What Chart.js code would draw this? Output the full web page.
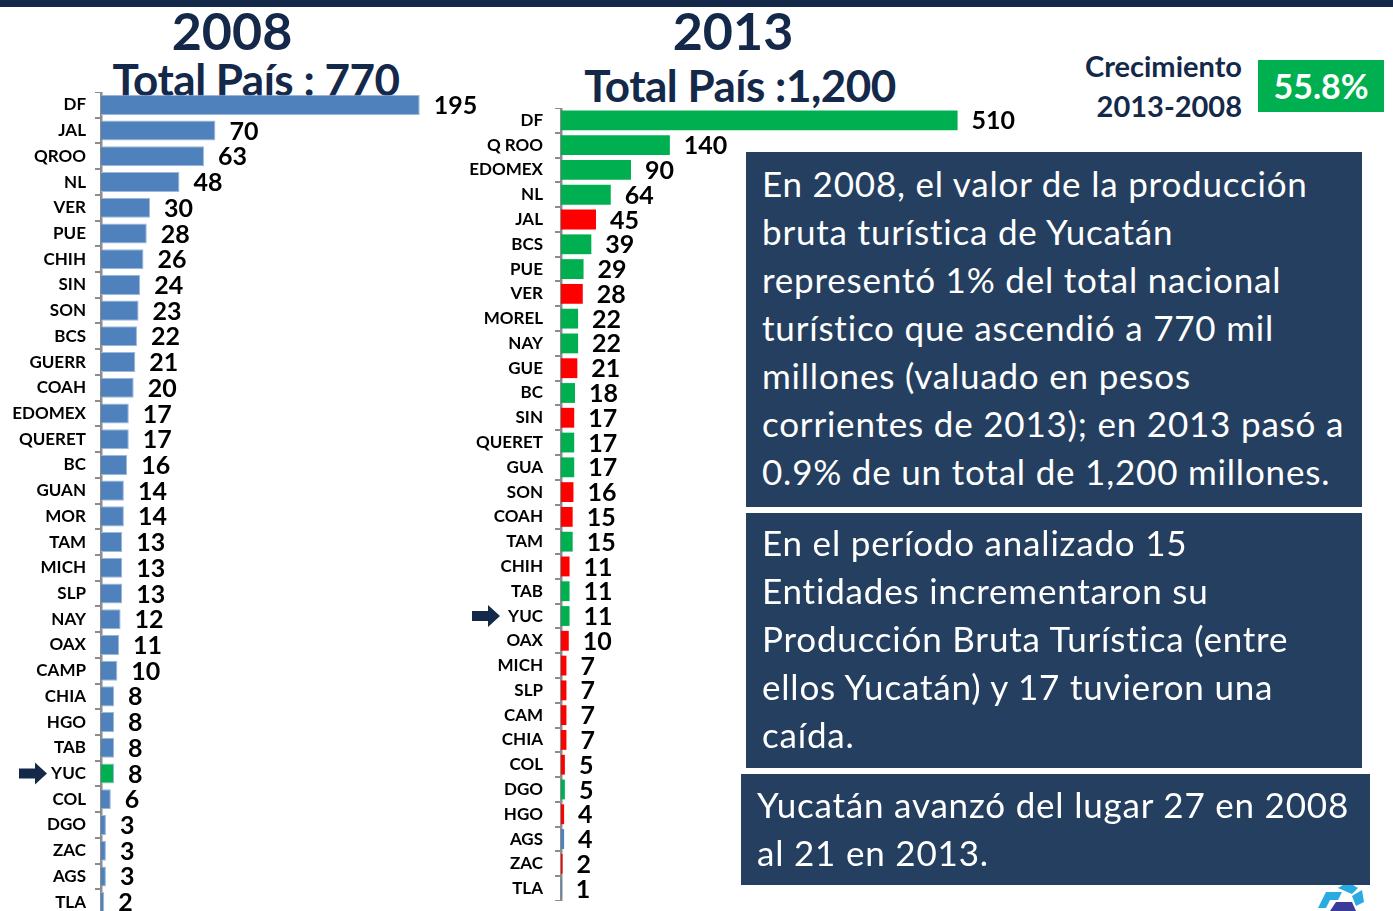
<!DOCTYPE html>
<html>
<head>
<meta charset="utf-8">
<script src="https://cdn.jsdelivr.net/npm/chart.js@4.4.0/dist/chart.umd.min.js"></script>
<style>
  html, body { margin: 0; padding: 0; width: 1393px; height: 911px; overflow: hidden; background: #fff; font-family: Lato, 'Open Sans', sans-serif; }
  .topbar { position: absolute; left: 0; top: 0; width: 1393px; height: 7px; background: #14284a; }
  .t { position: absolute; color: #14284a; font-weight: bold; white-space: nowrap; text-align: center; line-height: 1; }
  .box { position: absolute; background: #253f60; color: #fff; font-size: 35px; letter-spacing: 0.8px; line-height: 48px; white-space: nowrap; box-sizing: border-box; z-index: 5; }
  .wrap { position: absolute; }
</style>
</head>
<body>
<div class="topbar"></div>

<div class="t" style="left:132px; top:4px; width:200px; font-size:52px;">2008</div>
<div class="t" style="left:56px; top:57px; width:400px; font-size:44px; letter-spacing:-0.5px;">Total País : 770</div>
<div class="t" style="left:633px; top:4px; width:200px; font-size:52px;">2013</div>
<div class="t" style="left:540px; top:63px; width:400px; font-size:44px; letter-spacing:-0.5px;">Total País :1,200</div>

<div class="t" style="left:1042px; top:51px; width:200px; text-align:right; font-size:29px;">Crecimiento</div>
<div class="t" style="left:1042px; top:91px; width:200px; text-align:right; font-size:29px;">2013-2008</div>
<div style="position:absolute; left:1258px; top:60px; width:126px; height:52px; background:#00b050; color:#fff; font-weight:bold; font-size:34px; line-height:52px; text-align:center;">55.8%</div>

<div class="wrap" style="left:0px; top:92px; width:490px; height:823px;"><canvas id="chart2008"></canvas></div>
<div class="wrap" style="left:450px; top:108px; width:590px; height:793px;"><canvas id="chart2013"></canvas></div>

<div class="box" style="left:746px; top:152px; width:616px; height:355px; padding:7px 0 0 16px;">
En 2008, el valor de la producción<br>bruta turística de Yucatán<br>representó 1% del total nacional<br>turístico que ascendió a 770 mil<br>millones (valuado en pesos<br>corrientes de 2013); en 2013 pasó a<br>0.9% de un total de 1,200 millones.
</div>
<div class="box" style="left:746px; top:513px; width:616px; height:255px; padding:5px 0 0 16px;">
En el período analizado 15<br>Entidades incrementaron su<br>Producción Bruta Turística (entre<br>ellos Yucatán) y 17 tuvieron una<br>caída.
</div>
<div class="box" style="left:741px; top:774px; width:629px; height:111px; padding:6px 0 0 16px;">
Yucatán avanzó del lugar 27 en 2008<br>al 21 en 2013.
</div>

<svg style="position:absolute; left:1312px; top:878px;" width="60" height="33">
  <polygon points="6,30 14,14 30,14 26,22 18,22 14,30" fill="#29abe2"/>
  <polygon points="26,10 36,4 46,10 40,16" fill="#29abe2"/>
  <polygon points="40,18 50,12 52,24 44,28" fill="#29abe2"/>
  <polygon points="18,33 24,24 40,24 44,33" fill="#3b3b98"/>
</svg>

<script>
const cats2008 = ['DF','JAL','QROO','NL','VER','PUE','CHIH','SIN','SON','BCS','GUERR','COAH','EDOMEX','QUERET','BC','GUAN','MOR','TAM','MICH','SLP','NAY','OAX','CAMP','CHIA','HGO','TAB','YUC','COL','DGO','ZAC','AGS','TLA'];
const vals2008 = [195,70,63,48,30,28,26,24,23,22,21,20,17,17,16,14,14,13,13,13,12,11,10,8,8,8,8,6,3,3,3,2];

const cats2013 = ['DF','Q ROO','EDOMEX','NL','JAL','BCS','PUE','VER','MOREL','NAY','GUE','BC','SIN','QUERET','GUA','SON','COAH','TAM','CHIH','TAB','YUC','OAX','MICH','SLP','CAM','CHIA','COL','DGO','HGO','AGS','ZAC','TLA'];
const vals2013 = [510,140,90,64,45,39,29,28,22,22,21,18,17,17,17,16,15,15,11,11,11,10,7,7,7,7,5,5,4,4,2,1];
// s = subió, b = bajó, n = sin color
const cambio2013 = ['s','s','s','s','b','s','s','b','s','s','b','s','b','s','s','b','b','s','b','s','s','b','b','b','b','b','b','s','b','n','b','n'];

const blue = '#4f81bd';
const green = '#00b050';
const red = '#ff0000';
const navy = '#14284a';
const axisGray = '#8c8c8c';

const colors2008 = cats2008.map(c => c === 'YUC' ? green : blue);
const colors2013 = cambio2013.map(c => c === 's' ? green : (c === 'b' ? red : blue));

const valueLabels = {
  id: 'valueLabels',
  afterDatasetsDraw(chart, args, opts) {
    const ctx = chart.ctx;
    const meta = chart.getDatasetMeta(0);
    ctx.save();
    ctx.font = 'bold ' + opts.size + 'px Lato';
    ctx.fillStyle = '#000';
    ctx.textAlign = 'left';
    ctx.textBaseline = 'middle';
    meta.data.forEach((bar, i) => {
      ctx.fillText(chart.data.datasets[0].data[i], bar.x + opts.gap, bar.y + 1);
    });
    ctx.restore();
  }
};

const yucArrow = {
  id: 'yucArrow',
  afterDraw(chart, args, opts) {
    const ctx = chart.ctx;
    const i = chart.data.labels.indexOf('YUC');
    const y = chart.scales.y.getPixelForValue(i);
    const tip = chart.chartArea.left - opts.back;
    ctx.save();
    ctx.fillStyle = navy;
    ctx.beginPath();
    ctx.moveTo(tip - 28, y - 5);
    ctx.lineTo(tip - 12, y - 5);
    ctx.lineTo(tip - 12, y - 11);
    ctx.lineTo(tip, y);
    ctx.lineTo(tip - 12, y + 11);
    ctx.lineTo(tip - 12, y + 5);
    ctx.lineTo(tip - 28, y + 5);
    ctx.closePath();
    ctx.fill();
    ctx.restore();
  }
};

function makeChart(id, labels, values, colors, border, xMax, axisWidth, opt) {
  return new Chart(document.getElementById(id), {
    type: 'bar',
    data: {
      labels: labels,
      datasets: [{
        data: values,
        backgroundColor: colors,
        borderColor: border,
        borderWidth: border ? 1 : 0,
        barPercentage: opt.barPct,
        categoryPercentage: 1
      }]
    },
    options: {
      indexAxis: 'y',
      responsive: true,
      maintainAspectRatio: false,
      animation: false,
      layout: { padding: 0 },
      plugins: {
        legend: { display: false },
        tooltip: { enabled: false },
        valueLabels: { size: opt.labelSize, gap: opt.gap },
        yucArrow: { back: opt.arrowBack }
      },
      scales: {
        x: { display: false, min: 0, max: xMax },
        y: {
          afterFit(scale) {
            scale.width = axisWidth;
            scale.paddingTop = 0;
            scale.paddingBottom = 0;
          },
          border: { display: true, color: axisGray, width: 2.5 },
          grid: { display: true, drawOnChartArea: false, drawTicks: true, tickLength: 6, color: axisGray, lineWidth: 2, offset: true },
          ticks: { color: '#000', padding: opt.tickPad, font: { family: 'Lato', weight: 'bold', size: 17 } }
        }
      }
    },
    plugins: [valueLabels, yucArrow]
  });
}

makeChart('chart2008', cats2008, vals2008, colors2008, '#9cb8da', 238, 101,
  { barPct: 0.78, labelSize: 25, gap: 14, tickPad: 9, arrowBack: 54 });
makeChart('chart2013', cats2013, vals2013, colors2013, null, 616, 111,
  { barPct: 0.8, labelSize: 25, gap: 14, tickPad: 12, arrowBack: 61 });
</script>
</body>
</html>
